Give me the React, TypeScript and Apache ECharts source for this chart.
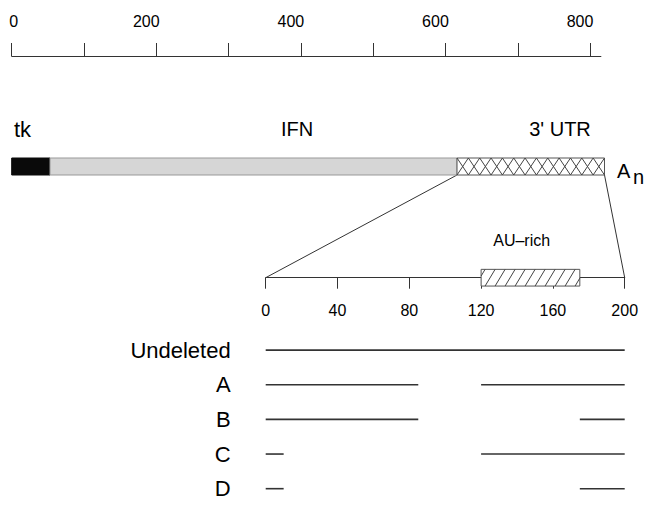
import React, { useEffect, useRef } from 'react';
import * as echarts from 'echarts';

const FONT = "'Liberation Sans', Arial, Helvetica, sans-serif";

// Top scale (nucleotides)
const scaleMax = 815;
const scaleTicks = [0, 100, 200, 300, 400, 500, 600, 700, 800];
const scaleLabels = [0, 200, 400, 600, 800];

// Construct segments along the top scale
const geneLength = 820;
const geneNames = ['tk', 'IFN', "3' UTR"];
const geneStarts = [0, 53, 616];
const geneEnds = [53, 616, 820];

// 3' UTR inset scale
const utrMax = 200;
const utrInterval = 40;
const auRichRange = [120, 175];
const auRichName = 'AU–rich';

// Deletion constructs
const rowNames = ['Undeleted', 'A', 'B', 'C', 'D'];
const rowSegments: number[][][] = [
  [[0, 200]],
  [[0, 85], [120, 200]],
  [[0, 85], [175, 200]],
  [[0, 10], [120, 200]],
  [[0, 10], [175, 200]],
];

export default function App() {
  const ref = useRef<HTMLDivElement>(null);

  useEffect(() => {
    if (!ref.current) return;
    const chart = echarts.init(ref.current, null, { renderer: 'svg' });

    const geneData = geneNames.map((_, i) => [geneStarts[i], geneEnds[i], 0.5, i]);
    const rowData: number[][] = [];
    rowSegments.forEach((segs, r) => segs.forEach((s) => rowData.push([s[0], s[1], r])));

    const option: any = {
      animation: false,
      backgroundColor: '#fff',
      textStyle: { fontFamily: FONT },
      grid: [
        { left: 11.7, top: 56, width: 589.2, height: 1 },
        { left: 11.7, top: 158, width: 592.8, height: 17 },
        { left: 265.7, top: 261, width: 359, height: 16.7 },
        { left: 265.7, top: 332.8, width: 359, height: 179 },
      ],
      xAxis: [
        {
          gridIndex: 0,
          type: 'value',
          position: 'top',
          min: 0,
          max: scaleMax,
          axisLine: { show: true, onZero: false, lineStyle: { color: '#333', width: 1 } },
          axisTick: { show: true, length: 13, customValues: scaleTicks, lineStyle: { color: '#333', width: 1 } },
          axisLabel: {
            show: true,
            customValues: scaleLabels,
            margin: 27,
            fontSize: 16,
            color: '#000',
            fontFamily: FONT,
            formatter: (v: number) => (v === 0 ? '{z|0}' : '{n|' + v + '}'),
            rich: {
              z: { fontSize: 16, color: '#000', fontFamily: FONT, padding: [0, 0, 0, 4] },
              n: { fontSize: 16, color: '#000', fontFamily: FONT, padding: [0, 20, 0, 0] },
            },
          },
          splitLine: { show: false },
        },
        { gridIndex: 1, type: 'value', min: 0, max: geneLength, show: false },
        {
          gridIndex: 2,
          type: 'value',
          min: 0,
          max: utrMax,
          interval: utrInterval,
          axisLine: { show: true, onZero: false, lineStyle: { color: '#333', width: 1 } },
          axisTick: { show: true, length: 11, lineStyle: { color: '#333', width: 1 } },
          axisLabel: { margin: 25, fontSize: 16, color: '#000', fontFamily: FONT },
          splitLine: { show: false },
        },
        { gridIndex: 3, type: 'value', min: 0, max: utrMax, show: false },
      ],
      yAxis: [
        { gridIndex: 0, type: 'value', min: 0, max: 1, show: false },
        { gridIndex: 1, type: 'value', min: 0, max: 1, show: false },
        { gridIndex: 2, type: 'value', min: 0, max: 1, show: false },
        {
          gridIndex: 3,
          type: 'category',
          data: rowNames,
          inverse: true,
          axisLine: { show: false },
          axisTick: { show: false },
          splitLine: { show: false },
          axisLabel: { fontSize: 22, margin: 35, color: '#000', fontFamily: FONT, padding: [3, 0, 0, 0] },
        },
      ],
      series: [
        {
          type: 'custom',
          name: 'gene',
          xAxisIndex: 1,
          yAxisIndex: 1,
          silent: true,
          encode: { x: [0, 1], y: 2 },
          data: geneData,
          renderItem: (params: any, api: any) => {
            const s = api.value(0), e = api.value(1), k = api.value(3);
            const tl = api.coord([s, 1]);
            const br = api.coord([e, 0]);
            const L = tl[0], T = tl[1], R = br[0], B = br[1];
            const children: any[] = [];
            if (k === 0) {
              children.push({ type: 'rect', shape: { x: L, y: T, width: R - L, height: B - T }, style: { fill: '#0a0a0a', stroke: '#0a0a0a', lineWidth: 1 } });
            } else if (k === 1) {
              children.push({ type: 'rect', shape: { x: L, y: T, width: R - L, height: B - T }, style: { fill: '#d6d6d6', stroke: '#999', lineWidth: 1 } });
            } else {
              children.push({ type: 'rect', shape: { x: L, y: T, width: R - L, height: B - T }, style: { fill: '#fff', stroke: '#555', lineWidth: 1 } });
              const n = Math.max(1, Math.round((R - L) / 11.4));
              const p = (R - L) / n;
              const z1: number[][] = [], z2: number[][] = [];
              for (let i = 0; i <= n; i++) {
                const x = L + i * p;
                z1.push([x, i % 2 ? T : B]);
                z2.push([x, i % 2 ? B : T]);
              }
              children.push({ type: 'polyline', shape: { points: z1 }, style: { fill: 'none', stroke: '#444', lineWidth: 1 } });
              children.push({ type: 'polyline', shape: { points: z2 }, style: { fill: 'none', stroke: '#444', lineWidth: 1 } });
            }
            return { type: 'group', children };
          },
        },
        {
          type: 'custom',
          name: 'au',
          xAxisIndex: 2,
          yAxisIndex: 2,
          silent: true,
          encode: { x: [0, 1], y: 2 },
          data: [[auRichRange[0], auRichRange[1], 0]],
          renderItem: (params: any, api: any) => {
            const tl = api.coord([api.value(0), 0.5]);
            const br = api.coord([api.value(1), -0.5]);
            const L = tl[0], T = tl[1], R = br[0], B = br[1];
            const children: any[] = [
              { type: 'rect', shape: { x: L, y: T, width: R - L, height: B - T }, style: { fill: '#fff', stroke: '#555', lineWidth: 1 } },
            ];
            const sp = 10, run = 10;
            for (let x0 = L - run + 4; x0 < R; x0 += sp) {
              const tmin = Math.max(0, (L - x0) / run);
              const tmax = Math.min(1, (R - x0) / run);
              if (tmin < tmax) {
                children.push({
                  type: 'line',
                  shape: { x1: x0 + tmin * run, y1: B + tmin * (T - B), x2: x0 + tmax * run, y2: B + tmax * (T - B) },
                  style: { stroke: '#444', lineWidth: 1 },
                });
              }
            }
            return { type: 'group', children };
          },
        },
        {
          type: 'custom',
          name: 'rows',
          xAxisIndex: 3,
          yAxisIndex: 3,
          silent: true,
          encode: { x: [0, 1], y: 2 },
          data: rowData,
          renderItem: (params: any, api: any) => {
            const a = api.coord([api.value(0), api.value(2)]);
            const b = api.coord([api.value(1), api.value(2)]);
            return { type: 'line', shape: { x1: a[0], y1: a[1], x2: b[0], y2: b[1] }, style: { stroke: '#333', lineWidth: 1.6 } };
          },
        },
      ],
      graphic: [
        { type: 'text', style: { x: 14, y: 129, text: geneNames[0], fontSize: 22, fontFamily: FONT, fill: '#000', textAlign: 'left', textVerticalAlign: 'middle' } },
        { type: 'text', style: { x: 297, y: 129, text: geneNames[1], fontSize: 20, fontFamily: FONT, fill: '#000', textAlign: 'center', textVerticalAlign: 'middle' } },
        { type: 'text', style: { x: 560, y: 129, text: geneNames[2], fontSize: 20, fontFamily: FONT, fill: '#000', textAlign: 'center', textVerticalAlign: 'middle' } },
        { type: 'text', style: { x: 617, y: 171, text: 'A', fontSize: 20, fontFamily: FONT, fill: '#000', textAlign: 'left', textVerticalAlign: 'middle' } },
        { type: 'text', style: { x: 633, y: 177, text: 'n', fontSize: 20, fontFamily: FONT, fill: '#000', textAlign: 'left', textVerticalAlign: 'middle' } },
        { type: 'text', style: { x: 521.7, y: 240.5, text: auRichName, fontSize: 16, fontFamily: FONT, fill: '#000', textAlign: 'center', textVerticalAlign: 'middle' } },
      ],
    };

    chart.setOption(option);

    // Zoom lines linking the 3' UTR on the construct to the inset scale
    const p1 = chart.convertToPixel({ gridIndex: 1 } as any, [geneStarts[2], 0]) as number[];
    const p2 = chart.convertToPixel({ gridIndex: 1 } as any, [geneEnds[2], 0]) as number[];
    const q1 = chart.convertToPixel({ gridIndex: 2 } as any, [0, 0]) as number[];
    const q2 = chart.convertToPixel({ gridIndex: 2 } as any, [utrMax, 0]) as number[];
    if (p1 && p2 && q1 && q2) {
      chart.setOption({
        graphic: [
          ...option.graphic,
          { type: 'line', shape: { x1: p1[0], y1: p1[1], x2: q1[0], y2: q1[1] }, style: { stroke: '#333', lineWidth: 1 } },
          { type: 'line', shape: { x1: p2[0], y1: p2[1], x2: q2[0], y2: q2[1] }, style: { stroke: '#333', lineWidth: 1 } },
        ],
      });
    }

    return () => chart.dispose();
  }, []);

  return <div ref={ref} style={{ position: 'fixed', left: 0, top: 0, width: 652, height: 506 }} />;
}
